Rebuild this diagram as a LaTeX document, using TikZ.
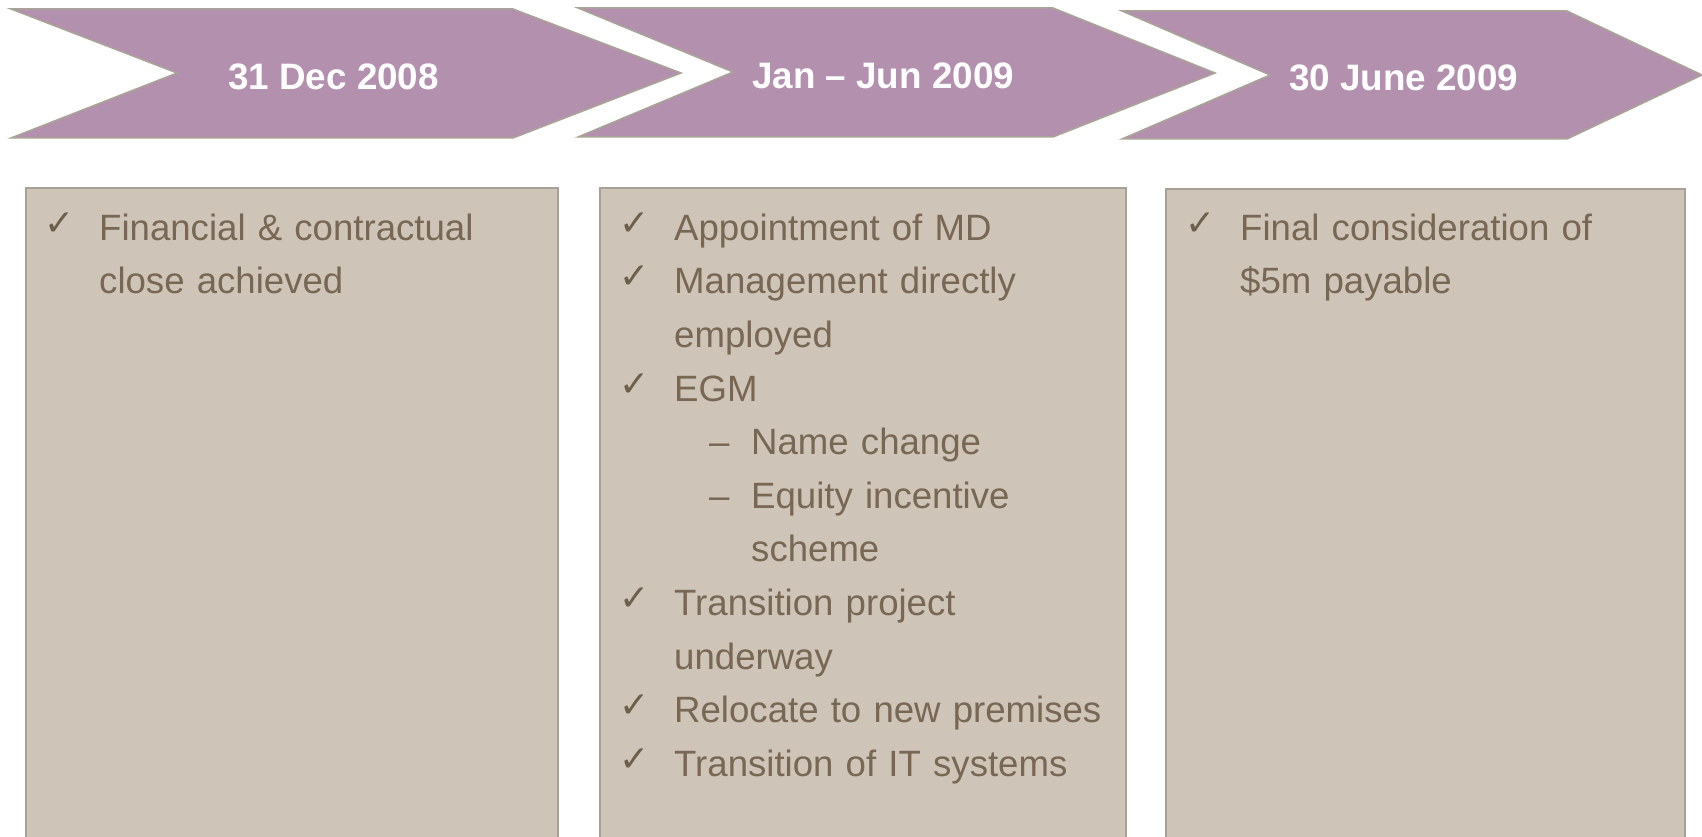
\documentclass[tikz,border=0pt]{standalone}
\usepackage{fontspec}
\setmainfont{Liberation Sans}
\newfontfamily\dejavu{DejaVu Sans}
\definecolor{chevfill}{HTML}{B391AE}
\definecolor{chevline}{HTML}{A9A497}
\definecolor{boxfill}{HTML}{CEC4B8}
\definecolor{boxline}{HTML}{A8A097}
\definecolor{bodytext}{HTML}{776753}
\definecolor{tickcol}{HTML}{6E5F4B}
% check-mark bullet followed by the hanging indent
\newcommand\tk{\makebox[53pt][l]{\hspace*{-2pt}\raisebox{5pt}{\dejavu\fontsize{36}{36}\selectfont\color{tickcol}✓}}}
% continuation line of a bullet
\newcommand\cont{\hspace*{53pt}}
% dash sub-bullet
\newcommand\dashitem{\hspace*{88pt}\makebox[42pt][l]{–}}
\newcommand\dashcont{\hspace*{130pt}}
\begin{document}
\begin{tikzpicture}[x=1pt,y=-1pt,
  chevron/.style={fill=chevfill,draw=chevline,line width=1.5pt,line join=miter},
  panel/.style={fill=boxfill,draw=boxline,line width=2.5pt},
  datelabel/.style={anchor=base west,inner sep=0pt,text=white,
    font=\fontsize{36.8}{40}\selectfont\bfseries},
  itemlist/.style={anchor=north west,inner sep=0pt,text=bodytext,align=left,
    text width=560pt,font=\fontsize{36.6}{53.6}\selectfont}]
\useasboundingbox (0,0) rectangle (1702,837);
\clip (0,0) rectangle (1702,837);
\fill[white] (0,0) rectangle (1702,837);

% timeline chevrons
\draw[chevron] (11,9) -- (513,9) -- (681,73) -- (513,138) -- (11,138) -- (177,73) -- cycle;
\draw[chevron] (578,8) -- (1053,8) -- (1215,73) -- (1053,137) -- (578,137) -- (733,72) -- cycle;
\draw[chevron] (1122,11) -- (1567,11) -- (1702,75) -- (1567,139) -- (1122,139) -- (1270,75) -- cycle;

\node[datelabel] (d1) at (228,90) {31 Dec 2008};
\node[datelabel] (d2) at (752,89) {Jan – Jun 2009};
\node[datelabel] (d3) at (1289,91) {30 June 2009};

% milestone panels (they run on past the lower edge)
\draw[panel] (26,188) rectangle (558,860);
\draw[panel] (600,188) rectangle (1126,860);
\draw[panel] (1166,189) rectangle (1685,860);

\node[itemlist] (l1) at (46,200) {\rule{0pt}{40pt}\tk Financial \& contractual\\
\cont close achieved};

\node[itemlist] (l2) at (621,200) {\rule{0pt}{40pt}\tk Appointment of MD\\
\tk Management directly\\
\cont employed\\
\tk EGM\\
\dashitem Name change\\
\dashitem Equity incentive\\
\dashcont scheme\\
\tk Transition project\\
\cont underway\\
\tk Relocate to new premises\\
\tk Transition of IT systems};

\node[itemlist] (l3) at (1187,200) {\rule{0pt}{40pt}\tk Final consideration of\\
\cont \$5m payable};
\end{tikzpicture}
\end{document}
